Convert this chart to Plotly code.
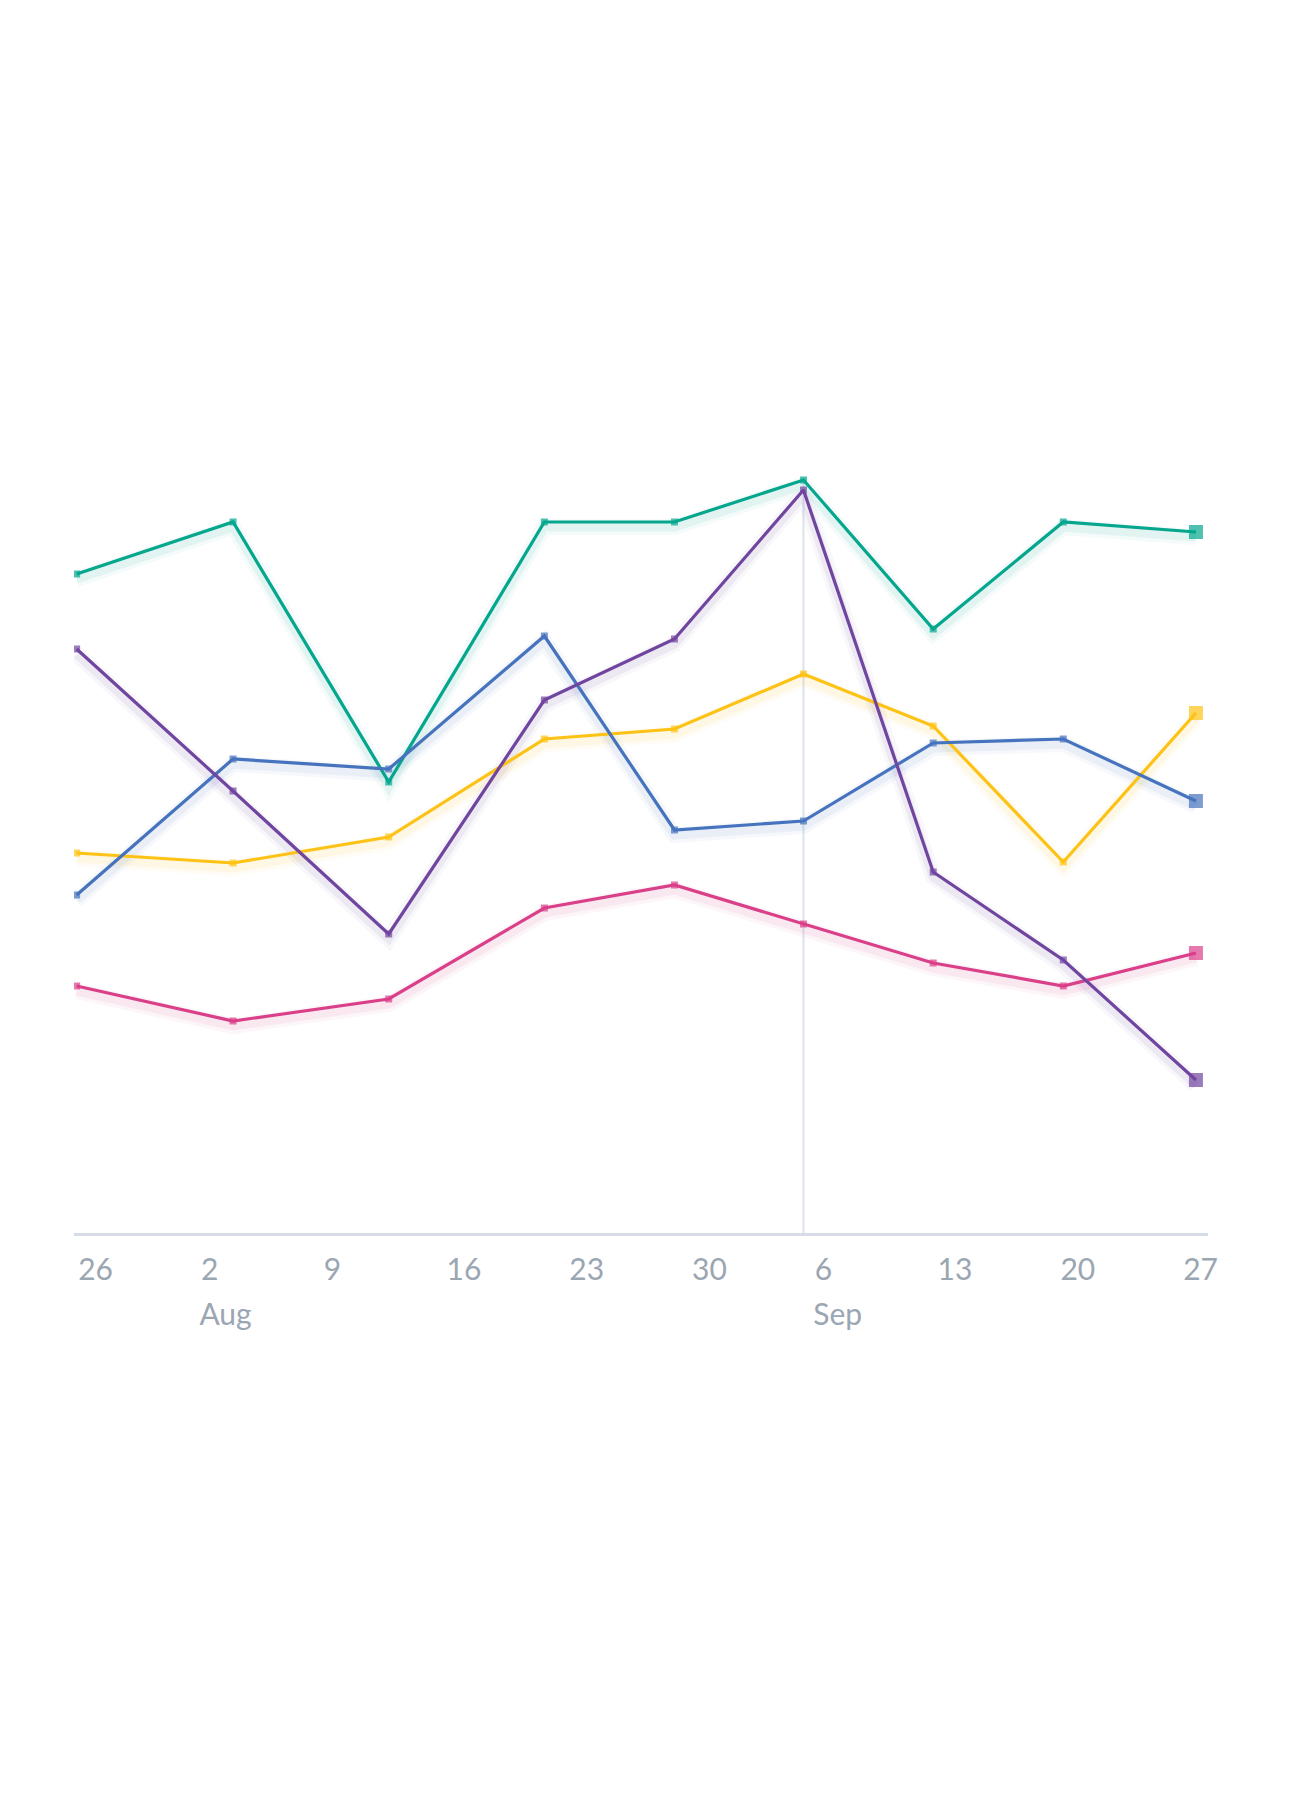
import plotly.graph_objects as go

# ---- data ----
dates = ["2021-07-26 00:00", "2021-08-03 22:00", "2021-08-12 19:00", "2021-08-21 16:00",
         "2021-08-29 02:00", "2021-09-05 10:30", "2021-09-12 20:00", "2021-09-20 06:00",
         "2021-09-27 19:30"]

teal = [65.9, 71.1, 45.1, 71.1, 71.1, 75.3, 60.4, 71.1, 70.1]
purple = [58.4, 44.2, 29.9, 53.3, 59.4, 74.3, 36.1, 27.3, 15.3]
blue = [33.8, 47.4, 46.4, 59.7, 40.3, 41.2, 49.0, 49.4, 43.2]
yellow = [38.0, 37.0, 39.6, 49.4, 50.4, 55.9, 50.7, 37.1, 52.0]
pink = [24.7, 21.2, 23.4, 32.5, 34.8, 30.9, 27.0, 24.7, 28.0]

series_names = ["Teal", "Yellow", "Blue", "Pink", "Purple"]
series_values = [teal, yellow, blue, pink, purple]
series_colors = ["#04a68e", "#fdc216", "#4673bd", "#da3f89", "#7045a0"]

month_tickvals = ["2021-08-02", "2021-09-06"]
month_ticktext = ["Aug", "Sep"]
highlight_index = 5  # vertical guide at this point

TICK_COLOR = "#9ba6b3"
FONT = "Lato, 'Source Sans Pro', 'Noto Sans', sans-serif"

fig = go.Figure()

# soft glow under each line (base axis, slightly offset downward)
for name, vals, col in zip(series_names, series_values, series_colors):
    for w, op in [(16, 0.04), (9, 0.07)]:
        fig.add_trace(go.Scatter(
            x=dates, y=vals, mode="lines", yaxis="y",
            line=dict(color=col, width=w), opacity=op,
            hoverinfo="skip", showlegend=False))

# main lines (overlay axis, drawn on top)
for name, vals, col in zip(series_names, series_values, series_colors):
    n = len(vals)
    sizes = [7] * (n - 1) + [14]
    fig.add_trace(go.Scatter(
        x=dates, y=vals, mode="lines+markers", name=name, yaxis="y2",
        line=dict(color=col, width=3.2),
        marker=dict(symbol="square", size=sizes, color=col, line=dict(width=0)),
        showlegend=False, hoverinfo="skip"))

# hidden trace for the month axis
fig.add_trace(go.Scatter(x=[dates[0]], y=[None], xaxis="x2", showlegend=False,
                         hoverinfo="skip", mode="lines"))

# vertical guide line
fig.add_shape(type="line", xref="x", yref="y2",
              x0=dates[highlight_index], x1=dates[highlight_index],
              y0=0, y1=max(v[highlight_index] for v in series_values),
              line=dict(color="#dce3eb", width=2), layer="below")

x_range = ["2021-07-25 20:24", "2021-09-28 12:00"]

fig.update_layout(
    width=1296, height=1812,
    margin=dict(l=66, r=96, t=225, b=587),
    paper_bgcolor="white", plot_bgcolor="white",
    font=dict(family=FONT, color=TICK_COLOR, size=30),
    hovermode=False,
    xaxis=dict(
        type="date", range=x_range,
        tick0="2021-07-26", dtick=7 * 24 * 3600 * 1000,
        tickformat="%-d",
        ticks="", ticklabelstandoff=8,
        ticklabelposition="outside right",
        tickfont=dict(family=FONT, size=30, color=TICK_COLOR),
        showgrid=False, zeroline=False,
        showline=True, linecolor="#d5dce6", linewidth=3,
    ),
    xaxis2=dict(
        type="date", overlaying="x", matches="x", side="bottom",
        anchor="y", range=x_range,
        tickmode="array", tickvals=month_tickvals, ticktext=month_ticktext,
        ticks="", ticklabelstandoff=61,
        ticklabelposition="outside right",
        tickfont=dict(family=FONT, size=30, color=TICK_COLOR),
        showgrid=False, zeroline=False, showline=False,
    ),
    yaxis=dict(range=[0.5, 100.5], visible=False, showgrid=False, zeroline=False),
    yaxis2=dict(range=[0, 100], overlaying="y", visible=False,
                showgrid=False, zeroline=False),
)

fig.write_html("out.html")
